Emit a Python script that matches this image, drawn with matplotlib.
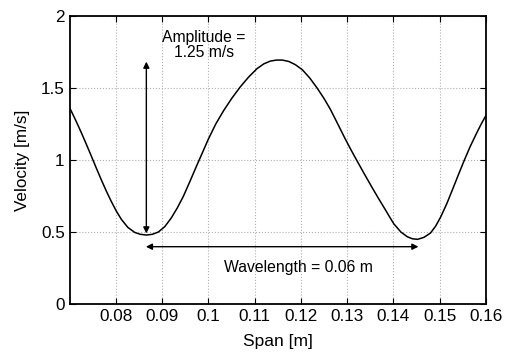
import matplotlib
matplotlib.use("Agg")
import matplotlib.pyplot as plt

plt.rcParams['font.family'] = ['Liberation Sans', 'DejaVu Sans']

span = [0.0700, 0.0713, 0.07255, 0.0736, 0.0747, 0.0758, 0.0769, 0.0780, 0.0790, 0.0801,
        0.0812, 0.0826, 0.0841, 0.0853, 0.0866, 0.0879, 0.0892, 0.0906, 0.0920, 0.0933,
        0.0946, 0.0960, 0.0975, 0.0988, 0.1000, 0.1016, 0.1033, 0.1051, 0.1069, 0.1087,
        0.1105, 0.1120, 0.1134, 0.1147, 0.1160, 0.1174, 0.1188, 0.1203, 0.1219, 0.1235,
        0.1250, 0.1264, 0.1280, 0.1296, 0.1309, 0.1322, 0.1338, 0.1354, 0.1369, 0.1383,
        0.1392, 0.1401, 0.1416, 0.1430, 0.1441, 0.1452, 0.1466, 0.1480, 0.1491, 0.1502,
        0.1515, 0.1527, 0.1540, 0.1552, 0.1566, 0.1581, 0.1590, 0.1600]
velocity = [1.365, 1.278, 1.190, 1.112, 1.028, 0.943, 0.860, 0.781, 0.714, 0.646,
            0.588, 0.532, 0.497, 0.484, 0.479, 0.484, 0.500, 0.538, 0.598, 0.668,
            0.748, 0.850, 0.962, 1.057, 1.145, 1.250, 1.343, 1.430, 1.508, 1.576,
            1.634, 1.668, 1.687, 1.694, 1.694, 1.684, 1.662, 1.627, 1.570, 1.500,
            1.427, 1.350, 1.248, 1.145, 1.066, 0.990, 0.898, 0.808, 0.726, 0.652,
            0.603, 0.556, 0.500, 0.467, 0.453, 0.449, 0.463, 0.493, 0.540, 0.604,
            0.695, 0.790, 0.895, 0.990, 1.095, 1.195, 1.252, 1.310]

xticks = [0.08, 0.09, 0.10, 0.11, 0.12, 0.13, 0.14, 0.15, 0.16]
xticklabels = ['0.08', '0.09', '0.1', '0.11', '0.12', '0.13', '0.14', '0.15', '0.16']
yticks = [0, 0.5, 1, 1.5, 2]
yticklabels = ['0', '0.5', '1', '1.5', '2']

amp_x = 0.0866
amp_lo, amp_hi = 0.49, 1.683
wl_y = 0.398
wl_x0, wl_x1 = 0.0865, 0.1454

fig = plt.figure(figsize=(5.06, 3.58), dpi=100)
ax = fig.add_axes([0.1374, 0.1508, 0.8231, 0.8045])

ax.plot(span, velocity, color='black', lw=1.1, solid_joinstyle='round')

ax.annotate('', xy=(amp_x, amp_hi), xytext=(amp_x, amp_lo),
            arrowprops=dict(arrowstyle='<|-|>', color='black', lw=1.0,
                            mutation_scale=9, shrinkA=0, shrinkB=0))
ax.annotate('', xy=(wl_x1, wl_y), xytext=(wl_x0, wl_y),
            arrowprops=dict(arrowstyle='<|-|>', color='black', lw=1.0,
                            mutation_scale=9, shrinkA=0, shrinkB=0))
ax.text(0.0990, 1.80, 'Amplitude =\n1.25 m/s', ha='center', va='center',
        fontsize=11.3, linespacing=1.05)
ax.text(0.1195, 0.255, 'Wavelength = 0.06 m', ha='center', va='center', fontsize=11.3)

ax.set_xlim(0.07, 0.16)
ax.set_ylim(0, 2)
ax.set_xticks(xticks)
ax.set_xticklabels(xticklabels)
ax.set_yticks(yticks)
ax.set_yticklabels(yticklabels)
ax.tick_params(direction='in', top=True, right=True, labelsize=12.3, length=4, width=0.8)
ax.grid(True, linestyle=':', color='#b0b0b0', lw=0.8)
for s in ax.spines.values():
    s.set_linewidth(1.3)
ax.set_xlabel('Span [m]', fontsize=12.5, labelpad=7)
ax.set_ylabel('Velocity [m/s]', fontsize=12.3, labelpad=8)

fig.savefig('out.png', dpi=100)
